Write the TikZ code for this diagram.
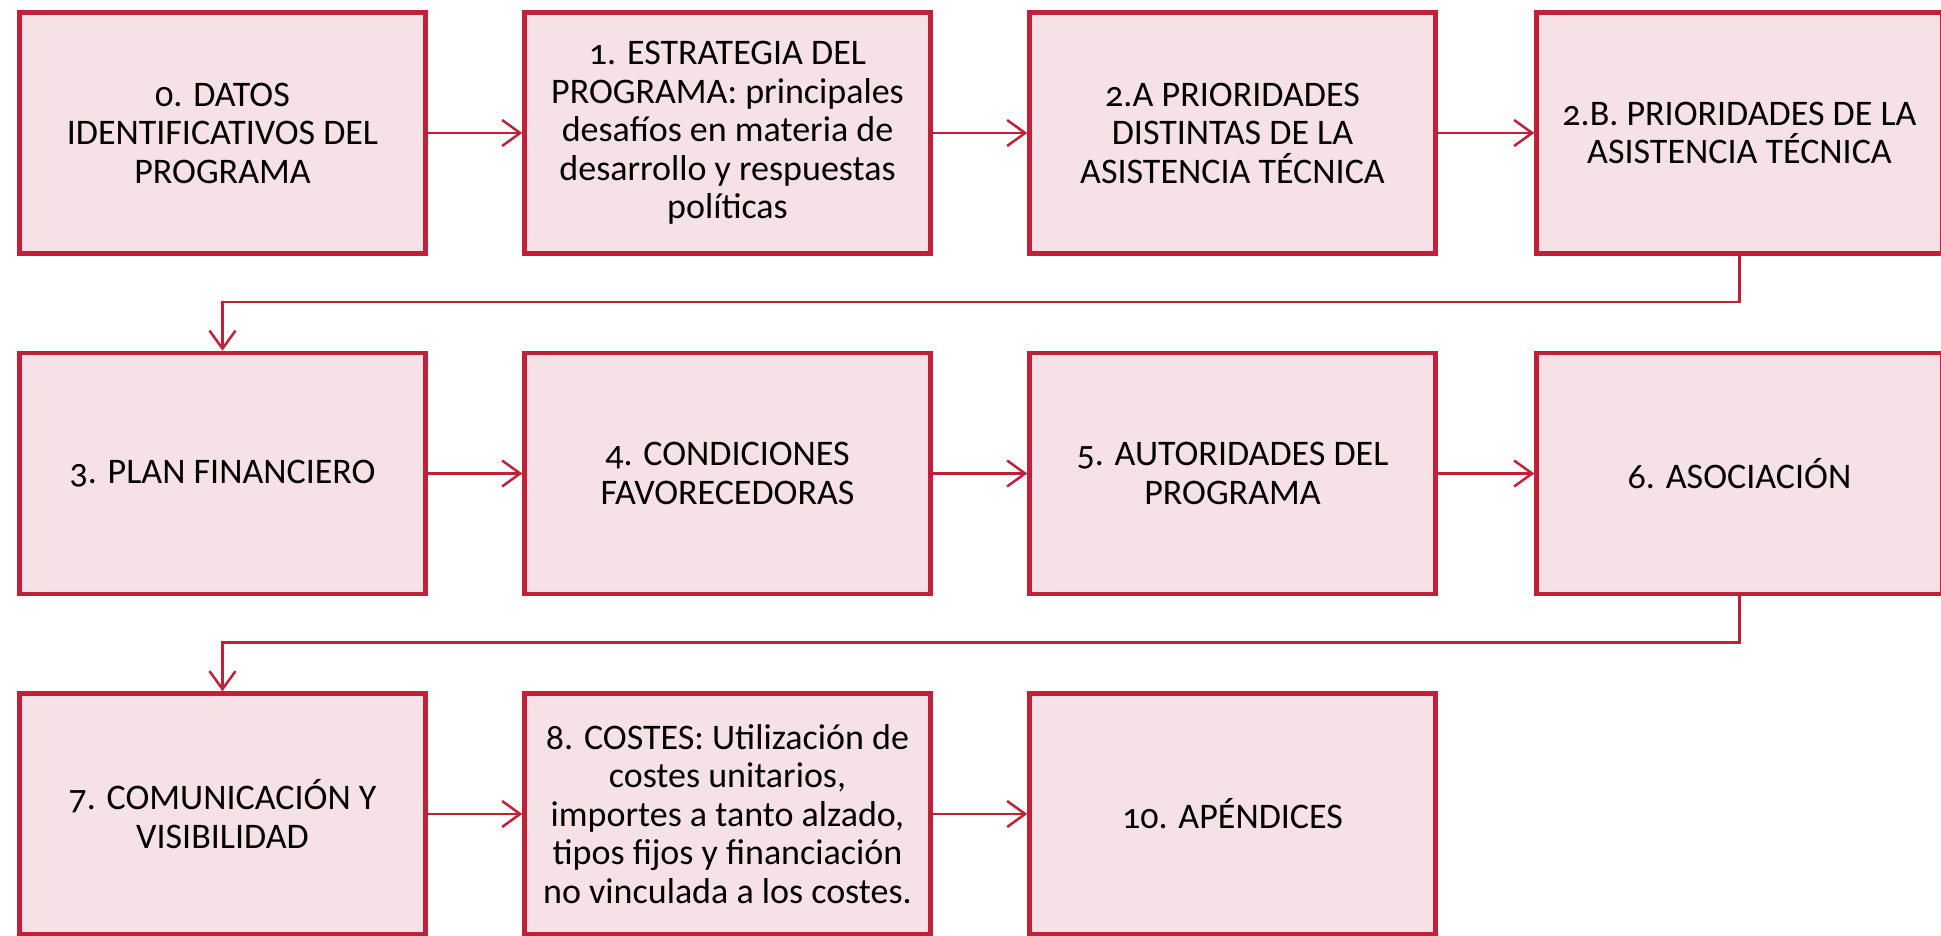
\documentclass[tikz,border=0pt]{standalone}
\usepackage{fontspec}
\setmainfont[Numbers=OldStyle]{Carlito}
\usetikzlibrary{arrows.meta}
\definecolor{bordercol}{RGB}{193,33,56}
\definecolor{fillcol}{RGB}{246,225,230}
\tikzset{
  stepbox/.style={draw=bordercol, fill=fillcol, line width=4.5pt, minimum width=406pt, minimum height=241pt, inner sep=0pt, align=center, font=\fontsize{36pt}{38.5pt}\selectfont, text=black},
  flow/.style={draw=bordercol, line width=2.5pt, -{Straight Barb[length=18pt,width=26pt]}}
}
\begin{document}
\begin{tikzpicture}[x=1pt,y=1pt]
\useasboundingbox (0,0) rectangle (1941,-936);
\node[stepbox] (b0) at (222.5,-133) {0. DATOS\\IDENTIFICATIVOS DEL\\PROGRAMA};
\node[stepbox] (b1) at (727.5,-133) {1. ESTRATEGIA DEL\\PROGRAMA: principales\\desafíos en materia de\\desarrollo y respuestas\\políticas};
\node[stepbox] (b2) at (1232.5,-133) {2.A PRIORIDADES\\DISTINTAS DE LA\\ASISTENCIA TÉCNICA};
\node[stepbox] (b3) at (1739.5,-133) {2.B. PRIORIDADES DE LA\\ASISTENCIA TÉCNICA};
\node[stepbox] (b4) at (222.5,-473.5) {3. PLAN FINANCIERO};
\node[stepbox] (b5) at (727.5,-473.5) {4. CONDICIONES\\FAVORECEDORAS};
\node[stepbox] (b6) at (1232.5,-473.5) {5. AUTORIDADES DEL\\PROGRAMA};
\node[stepbox] (b7) at (1739.5,-473.5) {6. ASOCIACIÓN};
\node[stepbox] (b8) at (222.5,-814) {7. COMUNICACIÓN Y\\VISIBILIDAD};
\node[stepbox] (b9) at (727.5,-814) {8. COSTES: Utilización de\\costes unitarios,\\importes a tanto alzado,\\tipos fijos y financiación\\no vinculada a los costes.};
\node[stepbox] (b10) at (1232.5,-814) {10. APÉNDICES};
\draw[flow] (b0.east) -- (b1.west);
\draw[flow] (b1.east) -- (b2.west);
\draw[flow] (b2.east) -- (b3.west);
\draw[flow] (b4.east) -- (b5.west);
\draw[flow] (b5.east) -- (b6.west);
\draw[flow] (b6.east) -- (b7.west);
\draw[flow] (b8.east) -- (b9.west);
\draw[flow] (b9.east) -- (b10.west);
\draw[flow] (b3.south) -- ++(0,-46) -| (b4.north);
\draw[flow] (b7.south) -- ++(0,-46) -| (b8.north);
\end{tikzpicture}
\end{document}
